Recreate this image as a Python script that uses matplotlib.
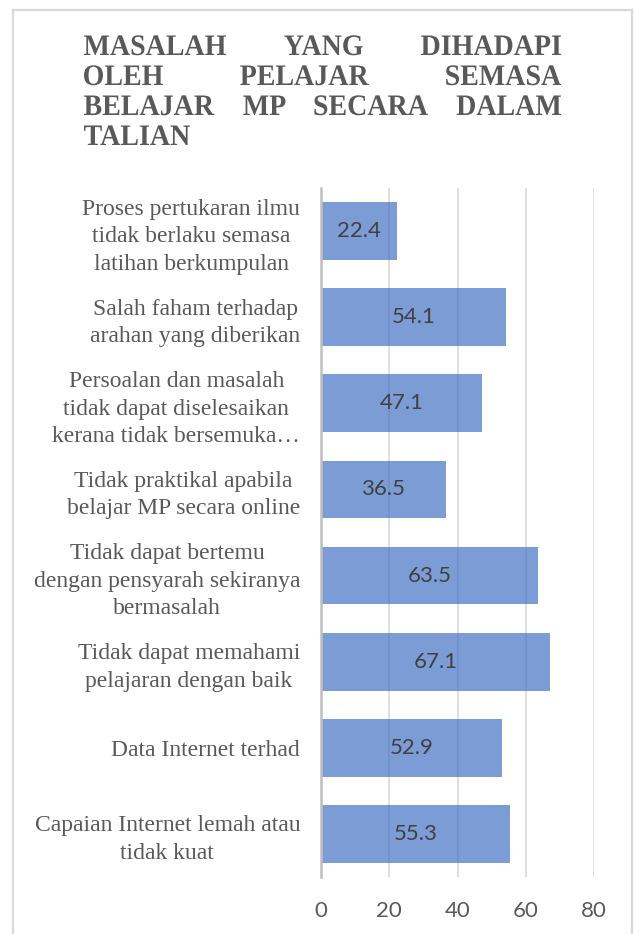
import matplotlib
matplotlib.use("Agg")
import matplotlib.pyplot as plt
from matplotlib.lines import Line2D
from matplotlib.textpath import TextPath
from matplotlib.patches import PathPatch
from matplotlib.font_manager import FontProperties
from matplotlib.transforms import Affine2D

categories = [
    "Proses pertukaran ilmu\ntidak berlaku semasa\nlatihan berkumpulan",
    "Salah faham terhadap\narahan yang diberikan",
    "Persoalan dan masalah\ntidak dapat diselesaikan\nkerana tidak bersemuka\u2026",
    "Tidak praktikal apabila\nbelajar MP secara online",
    "Tidak dapat bertemu\ndengan pensyarah sekiranya\nbermasalah",
    "Tidak dapat memahami\npelajaran dengan baik",
    "Data Internet terhad",
    "Capaian Internet lemah atau\ntidak kuat",
]
values = [22.4, 54.1, 47.1, 36.5, 63.5, 67.1, 52.9, 55.3]
xticks = [0, 20, 40, 60, 80]
title_lines = [["MASALAH", "YANG", "DIHADAPI"],
               ["OLEH", "PELAJAR", "SEMASA"],
               ["BELAJAR", "MP", "SECARA", "DALAM"],
               ["TALIAN"]]

W, H = 634, 934
fig = plt.figure(figsize=(W / 100, H / 100), dpi=100)
ax = fig.add_axes([321 / W, 1 - 877 / H, (594 - 321) / W, (877 - 188) / H])

n = len(categories)
ypos = list(range(n))[::-1]
bars = ax.barh(ypos, values, height=0.67, color="#4472C4", alpha=0.7, zorder=2)
ax.set_ylim(-0.5, n - 0.5)
ax.set_xlim(0, 80)
ax.set_xticks(xticks)
ax.set_xticklabels([str(t) for t in xticks])
ax.set_yticks(ypos)
ax.set_yticklabels(categories, fontfamily="Liberation Serif", fontsize=17,
                   color="#595959", multialignment="center", linespacing=1.4)
ax.tick_params(axis="y", length=0, pad=15)
ax.tick_params(axis="x", length=0, pad=17, labelsize=16, labelcolor="#595959")
for lab in ax.get_xticklabels():
    lab.set_fontfamily("Lato")
ax.grid(axis="x", color="#D9D9D9", lw=1.2, zorder=1)
for s in ["top", "right", "bottom"]:
    ax.spines[s].set_visible(False)
ax.spines["left"].set_color("#BFBFBF")
ax.spines["left"].set_linewidth(1.8)
ax.spines["left"].set_zorder(3)

for b, v in zip(bars, values):
    ax.text(v / 2, b.get_y() + b.get_height() / 2, f"{v:.1f}", ha="center",
            va="center", fontsize=16, fontfamily="Lato", color="#404040", zorder=4)

# Justified title drawn as paths (slightly taller than wide, as in the reference)
fp = FontProperties(family="Liberation Serif", weight="bold")
ref = TextPath((0, 0), "MASALAH", size=100, prop=fp).get_extents()
capH = TextPath((0, 0), "H", size=100, prop=fp).get_extents().height
sx = 142 / ref.width
sy = 19.5 / capH
left_x, right_x = 84, 561
baselines = [55, 85, 115, 145]
for li, words in enumerate(title_lines):
    paths = [TextPath((0, 0), w, size=100, prop=fp) for w in words]
    exts = [p.get_extents() for p in paths]
    widths = [e.width * sx for e in exts]
    y = H - baselines[li]
    if len(words) == 1:
        xs = [left_x]
    else:
        gap = (right_x - left_x - sum(widths)) / (len(words) - 1)
        xs, x = [], left_x
        for wd in widths:
            xs.append(x)
            x += wd + gap
    for p, e, x in zip(paths, exts, xs):
        tr = Affine2D().translate(-e.x0, 0).scale(sx, sy).translate(x, y)
        patch = PathPatch(p, transform=tr, facecolor="#595959", edgecolor="none")
        fig.add_artist(patch)
        patch.set_transform(tr)

# Chart border
bc = "#D9D9D9"
fig.add_artist(Line2D([12.5, 632], [H - 9.5, H - 9.5], transform=None, color=bc, lw=1.6))
fig.add_artist(Line2D([12.5, 12.5], [0, H - 9.5], transform=None, color=bc, lw=1.6))
fig.add_artist(Line2D([632, 632], [0, H - 9.5], transform=None, color=bc, lw=1.6))

fig.savefig("out.png", dpi=100)
